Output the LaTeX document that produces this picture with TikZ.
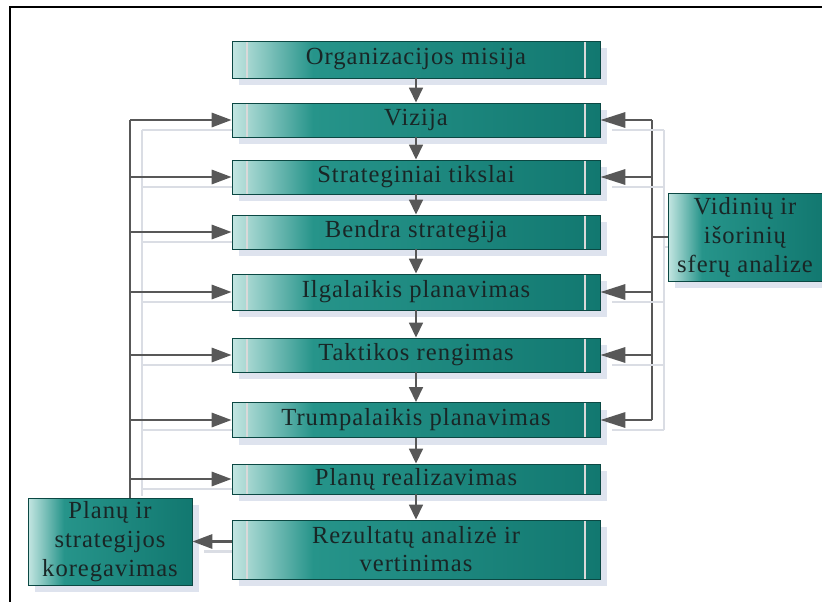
\documentclass[tikz,border=0pt]{standalone}
\usepackage{fontspec}
\setmainfont[LetterSpace=4]{Liberation Serif}
\usetikzlibrary{arrows.meta,shadows}
\definecolor{boxlight}{RGB}{196,230,226}
\definecolor{boxmid}{RGB}{38,148,138}
\definecolor{boxdark}{RGB}{18,120,112}
\definecolor{shadowcol}{RGB}{222,227,238}
\definecolor{ghostcol}{RGB}{218,221,228}
\definecolor{linecol}{RGB}{88,88,88}
\definecolor{textcol}{RGB}{25,38,38}
\pgfdeclarehorizontalshading{boxshade}{100bp}{color(0bp)=(boxlight); color(25bp)=(boxlight); color(36bp)=(boxmid); color(75bp)=(boxdark); color(100bp)=(boxdark)}
\tikzset{
	sidebox/.style={draw=boxdark!60!black,thin,shading=boxshade,text=textcol,
		inner sep=0pt,align=center,font=\fontsize{14}{16}\selectfont,
		general shadow={fill=shadowcol,shadow xshift=0.14cm,shadow yshift=-0.14cm}},
	stepbox/.style={sidebox,minimum width=7.36cm,minimum height=0.68cm,
		path picture={
			\draw[white!70!gray,line width=0.8pt] ([xshift=0.3cm]path picture bounding box.north west) -- ([xshift=0.3cm]path picture bounding box.south west);
			\draw[white!70!gray,line width=0.8pt] ([xshift=-0.3cm]path picture bounding box.north east) -- ([xshift=-0.3cm]path picture bounding box.south east);}},
	line/.style={draw=linecol,line width=1.7pt},
	ghost/.style={preaction={draw=ghostcol,line width=1.2pt,-,transform canvas={shift={(0.24cm,-0.2cm)}},#1}},
	ghost/.default={},
	tip/.style={-{Triangle[length=0.4cm,width=0.28cm]}},
	longtip/.style={-{Triangle[length=0.5cm,width=0.3cm]}},
	down/.style={line,-{Triangle[length=0.3cm,width=0.27cm]}}
}
\begin{document}
\begin{tikzpicture}[x=0.02cm,y=-0.02cm]
	\useasboundingbox (0,0) rectangle (822,602);
	\draw[black,line width=1.2pt] (10,602) -- (10,7) -- (822,7);

	% main column
	\node[stepbox,minimum height=0.74cm] (mis) at (416,59.5) {Organizacijos misija};
	\node[stepbox] (viz) at (416,120) {Vizija};
	\node[stepbox] (str) at (416,177) {Strateginiai tikslai};
	\node[stepbox] (ben) at (416,232) {Bendra strategija};
	\node[stepbox,minimum height=0.72cm] (ilg) at (416,292) {Ilgalaikis planavimas};
	\node[stepbox] (tak) at (416,355) {Taktikos rengimas};
	\node[stepbox,minimum height=0.7cm] (tru) at (416,420) {Trumpalaikis planavimas};
	\node[stepbox,minimum height=0.6cm] (pla) at (416,479) {Planų realizavimas};
	\node[stepbox,minimum height=1.18cm] (rez) at (416,549.5) {Rezultatų analizė ir\\vertinimas};

	% side boxes
	\node[sidebox,minimum width=3.08cm,minimum height=1.76cm,font=\fontsize{14}{16.5}\selectfont] (ana) at (745,237) {Vidinių ir\\išorinių\\sferų analize};
	\node[sidebox,minimum width=3.28cm,minimum height=1.74cm,font=\fontsize{14}{16.5}\selectfont] (kor) at (110,541.5) {Planų ir\\strategijos\\koregavimas};

	\coordinate (lbus) at (130,120);
	\coordinate (rbus) at (652,120);

	\foreach \a/\b in {mis/viz,viz/str,str/ben,ben/ilg,ilg/tak,tak/tru,tru/pla,pla/rez}
		\path (\a) edge[down] (\b);

	% feedback from the left
	\draw[line,ghost={shorten >=0.24cm}] (lbus |- viz.west) -- (kor.north -| lbus);
	\foreach \n in {viz,str,ben,ilg,tak,tru,pla}
		\path (lbus |- \n.west) edge[line,tip,ghost={shorten >=0.24cm}] (\n.west);
	\path (rez.west |- kor.east) edge[line,tip,ghost={shorten <=0.24cm}] (kor.east);

	% analysis on the right
	\draw[line,ghost] (rbus |- viz.east) -- (rbus |- tru.east);
	\draw[line,ghost={shorten >=0.24cm}] (ana.west -| rbus) -- (ana.west);
	\foreach \n in {viz,str,ilg,tak,tru}
		\path (rbus |- \n.east) edge[line,longtip,ghost] (\n.east);
\end{tikzpicture}
\end{document}
